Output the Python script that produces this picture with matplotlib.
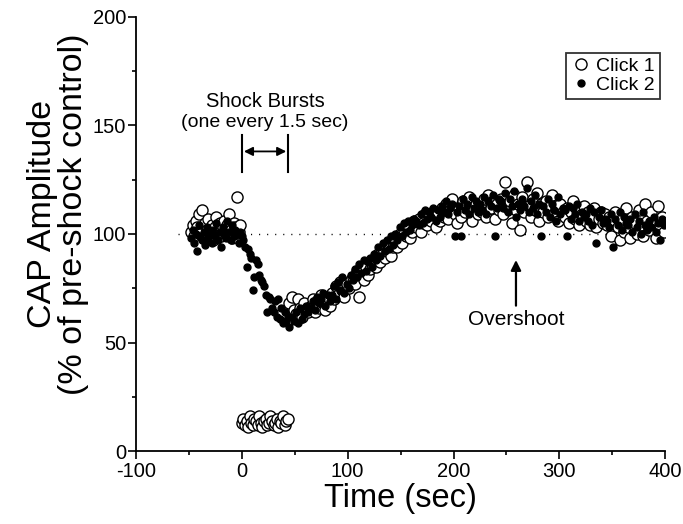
import numpy as np
import matplotlib
matplotlib.use('Agg')
import matplotlib.pyplot as plt
from matplotlib.ticker import MultipleLocator

plt.rcParams['font.family'] = ['Liberation Sans', 'DejaVu Sans']
plt.rcParams['axes.unicode_minus'] = False

# sampling grids (s)
t_pre = np.arange(-48, 0, 1.5)      # before shocks
t_shock = np.arange(0, 45, 1.5)     # during shock bursts
t_post = np.arange(45, 401, 2)      # recovery

# Click 1 (open circles), % of pre-shock control
click1_pre = [101, 104, 99, 106, 103, 109, 100, 111, 98, 105,
              102, 107, 100, 104, 97, 103, 108, 101, 105, 99,
              103, 106, 100, 104, 109, 102, 98, 105, 103, 117,
              101, 104]
click1_shock = [13, 15, 12, 14, 11, 16, 13, 12, 15, 14,
                12, 16, 13, 11, 14, 15, 12, 13, 16, 14,
                12, 13, 15, 11, 14, 13, 16, 12, 14, 15]
click1_post = [68, 71, 65, 63, 70, 66, 62, 68, 65, 64,
               67, 70, 64, 69, 66, 72, 68, 65, 71, 67,
               73, 70, 76, 72, 78, 74, 71, 77, 75, 79,
               80, 77, 83, 71, 82, 79, 85, 81, 84, 86,
               88, 85, 91, 87, 93, 89, 92, 95, 90, 94,
               97, 94, 100, 96, 102, 99, 104, 98, 101, 106,
               103, 107, 101, 105, 109, 104, 108, 106, 110, 103,
               110, 106, 112, 108, 114, 107, 111, 116, 109, 105,
               112, 108, 115, 110, 113, 117, 106, 111, 114, 109,
               113, 110, 116, 108, 118, 112, 115, 107, 114, 111,
               116, 109, 124, 112, 115, 105, 118, 111, 114, 102,
               117, 110, 124, 113, 108, 116, 111, 119, 106, 114,
               110, 115, 108, 113, 118, 109, 112, 106, 114, 110,
               108, 112, 105, 110, 115, 107, 111, 104, 109, 113,
               106, 110, 104, 108, 112, 103, 107, 110, 105, 109,
               104, 108, 99, 106, 110, 103, 97, 107, 101, 112,
               103, 98, 108, 105, 100, 111, 104, 99, 114, 106,
               102, 110, 105, 98, 113, 104, 108, 101]

# Click 2 (filled dots)
click2_pre = [98, 102, 96, 100, 92, 104, 99, 97, 101, 95,
              103, 98, 100, 96, 102, 99, 105, 97, 101, 94,
              103, 100, 98, 106, 101, 97, 104, 99, 102, 100,
              96, 101]
click2_shock = [99, 97, 94, 85, 93, 91, 89, 74, 80, 88,
                86, 81, 79, 78, 76, 72, 64, 71, 70, 66,
                64, 69, 62, 70, 61, 66, 59, 64, 60, 62]
click2_post = [57, 62, 60, 64, 59, 66, 61, 63, 67, 64,
               66, 69, 65, 71, 68, 70, 73, 67, 72, 69,
               72, 76, 70, 78, 74, 80, 73, 77, 75, 81,
               79, 84, 80, 86, 82, 88, 83, 87, 89, 85,
               91, 88, 94, 90, 96, 92, 97, 93, 99, 95,
               100, 97, 103, 99, 105, 101, 106, 102, 104, 107,
               106, 104, 109, 105, 111, 107, 110, 108, 112, 106,
               111, 108, 113, 110, 115, 109, 112, 114, 99, 110,
               113, 99, 116, 111, 114, 109, 117, 112, 115, 110,
               114, 111, 117, 109, 115, 113, 118, 99, 112, 116,
               115, 112, 119, 110, 116, 113, 120, 108, 114, 111,
               116, 113, 121, 110, 115, 112, 118, 109, 114, 99,
               113, 110, 116, 108, 114, 111, 106, 117, 109, 112,
               111, 99, 113, 107, 112, 109, 114, 106, 110, 108,
               109, 106, 112, 104, 110, 96, 108, 111, 105, 107,
               106, 103, 109, 94, 107, 104, 110, 102, 108, 105,
               104, 107, 101, 109, 103, 106, 100, 110, 104, 102,
               106, 103, 108, 101, 105, 97, 107, 104]

t1 = np.concatenate([t_pre, t_shock, t_post])
y1 = click1_pre + click1_shock + click1_post
t2 = np.concatenate([t_pre, t_shock, t_post])
y2 = click2_pre + click2_shock + click2_post

fig = plt.figure(figsize=(6.83, 5.24), dpi=100)
ax = fig.add_axes([0.199, 0.139, 0.775, 0.829])

# control level
ax.plot([-60, 400], [100, 100], color='black', lw=1, dashes=(0.8, 5), zorder=1)

ax.plot(t1, y1, 'o', ms=8, mfc='white', mec='black', mew=1, ls='none',
        label='Click 1', zorder=2)
ax.plot(t2, y2, 'o', ms=5, mfc='black', mec='black', ls='none',
        label='Click 2', zorder=3)

ax.set_xlim(-100, 400)
ax.set_ylim(0, 200)
ax.xaxis.set_major_locator(MultipleLocator(100))
ax.xaxis.set_minor_locator(MultipleLocator(50))
ax.yaxis.set_major_locator(MultipleLocator(50))
ax.yaxis.set_minor_locator(MultipleLocator(25))
ax.tick_params(which='major', direction='out', length=6, width=1.2, labelsize=14.5, pad=1)
ax.tick_params(axis='x', which='major', pad=2)
ax.tick_params(which='minor', direction='out', length=3, width=1.2)
for s in ['top', 'right']:
    ax.spines[s].set_visible(False)
for s in ['left', 'bottom']:
    ax.spines[s].set_linewidth(1.3)

ax.set_xlabel('Time (sec)', fontsize=23.5, labelpad=1)
ax.set_ylabel('CAP Amplitude\n(% of pre-shock control)', fontsize=24.5,
              linespacing=1.0)
ax.yaxis.set_label_coords(-0.089, 0.545)

# shock burst bracket
ax.plot([0, 0], [128.5, 145.5], color='black', lw=1.5)
ax.plot([44, 44], [128.5, 145.5], color='black', lw=1.5)
ax.annotate('', xy=(2, 138), xytext=(42, 138),
            arrowprops=dict(arrowstyle='<|-|>', color='black', lw=1.3,
                            mutation_scale=13, shrinkA=0, shrinkB=0))
ax.text(22, 161, 'Shock Bursts', ha='center', va='center', fontsize=14.5)
ax.text(22, 151.5, '(one every 1.5 sec)', ha='center', va='center', fontsize=14)

# overshoot arrow
ax.annotate('', xy=(259, 88), xytext=(259, 67),
            arrowprops=dict(arrowstyle='-|>', color='black', lw=1.6,
                            mutation_scale=15, shrinkA=0, shrinkB=0))
ax.text(259, 60.5, 'Overshoot', ha='center', va='center', fontsize=15)

leg = ax.legend(loc='upper right', bbox_to_anchor=(0.99, 0.917), fontsize=14,
                frameon=True, fancybox=False, handletextpad=0.3,
                handlelength=1.0, borderpad=0.25, labelspacing=0.05,
                borderaxespad=0)
leg.get_frame().set_edgecolor('black')
leg.get_frame().set_linewidth(1.3)

fig.savefig('out.png', dpi=100)
